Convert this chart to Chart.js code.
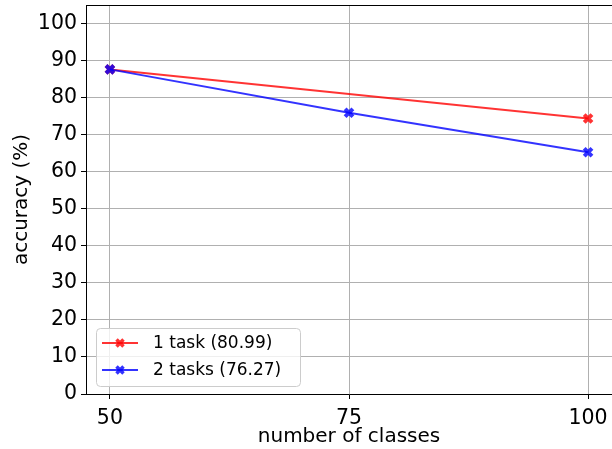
<!DOCTYPE html>
<html>
<head>
<meta charset="utf-8">
<script src="https://cdn.jsdelivr.net/npm/chart.js@4"></script>
<style>
    html, body { margin: 0; padding: 0; background: #fff; }
    #wrap { width: 612px; height: 449px; }
</style>
</head>
<body>
<div id="wrap"><canvas id="accChart" width="612" height="449"></canvas></div>
<script>
// data
const classCounts = [50, 75, 100];
const oneTaskClasses = [50, 100];
const oneTaskAcc = [87.62, 74.36];
const twoTaskAcc = [87.62, 75.92, 65.27];
const seriesLabels = ['1 task (80.99)', '2 tasks (76.27)'];
const yTicks = [0, 10, 20, 30, 40, 50, 60, 70, 80, 90, 100];

const FONT = 'DejaVu Sans';
const RED = 'rgba(255, 0, 0, 0.8)';
const BLUE = 'rgba(0, 0, 255, 0.8)';

// legend box drawn inside the plot, lower left
const insideLegend = {
    id: 'insideLegend',
    afterDraw(chart) {
        const ctx = chart.ctx;
        const area = chart.chartArea;
        const x = area.left + 10, y = area.bottom - 66, w = 204, h = 58;
        ctx.save();
        ctx.beginPath();
        ctx.roundRect(x + 0.5, y + 0.5, w, h, 4);
        ctx.fillStyle = 'rgba(255,255,255,0.8)';
        ctx.fill();
        ctx.strokeStyle = '#cccccc';
        ctx.lineWidth = 1;
        ctx.stroke();

        chart.data.datasets.forEach((ds, i) => {
            const rowY = y + 15 + i * 27;
            ctx.strokeStyle = ds.borderColor;
            ctx.lineWidth = 2;
            ctx.beginPath();
            ctx.moveTo(x + 6, rowY);
            ctx.lineTo(x + 42, rowY);
            ctx.stroke();
            ctx.lineWidth = 3.5;
            ctx.beginPath();
            ctx.moveTo(x + 24 - 3.5, rowY - 3.5);
            ctx.lineTo(x + 24 + 3.5, rowY + 3.5);
            ctx.moveTo(x + 24 - 3.5, rowY + 3.5);
            ctx.lineTo(x + 24 + 3.5, rowY - 3.5);
            ctx.stroke();
            ctx.fillStyle = '#000';
            ctx.font = '17px "' + FONT + '"';
            ctx.textBaseline = 'middle';
            ctx.textAlign = 'left';
            ctx.fillText(ds.label, x + 57, rowY + 1);
        });

        // top spine
        ctx.strokeStyle = '#000';
        ctx.lineWidth = 1;
        ctx.beginPath();
        ctx.moveTo(area.left, area.top + 0.5);
        ctx.lineTo(area.right, area.top + 0.5);
        ctx.stroke();
        ctx.restore();
    }
};

const ctx = document.getElementById('accChart').getContext('2d');
new Chart(ctx, {
    type: 'line',
    data: {
        datasets: [
            {
                label: seriesLabels[0],
                data: oneTaskClasses.map((c, i) => ({ x: c, y: oneTaskAcc[i] })),
                borderColor: RED,
                backgroundColor: RED,
                order: 1
            },
            {
                label: seriesLabels[1],
                data: classCounts.map((c, i) => ({ x: c, y: twoTaskAcc[i] })),
                borderColor: BLUE,
                backgroundColor: BLUE,
                order: 0
            }
        ].map(ds => ({
            ...ds,
            borderWidth: 2,
            pointStyle: 'crossRot',
            pointRadius: 5.5,
            pointBorderWidth: 4,
            tension: 0,
            fill: false
        }))
    },
    options: {
        responsive: false,
        animation: false,
        layout: { autoPadding: false, padding: { top: 5, right: 0, left: 0, bottom: 0 } },
        plugins: {
            legend: { display: false },
            tooltip: { enabled: false }
        },
        scales: {
            x: {
                type: 'linear',
                min: 47.5,
                max: 102.5,
                afterBuildTicks: s => { s.ticks = classCounts.map(v => ({ value: v })); },
                afterFit: s => {
                    s.height = 55;
                    s.paddingLeft = 0;
                    s.paddingRight = 0;
                },
                ticks: {
                    color: '#000',
                    padding: 7,
                    font: { family: FONT, size: 20.5 }
                },
                grid: { color: '#b0b0b0', tickColor: '#000', tickLength: 5 },
                border: { color: '#000' },
                title: {
                    display: true,
                    text: 'number of classes',
                    color: '#000',
                    padding: { top: 0, bottom: 0 },
                    font: { family: FONT, size: 20 }
                }
            },
            y: {
                min: 0,
                max: 105,
                afterBuildTicks: s => { s.ticks = yTicks.map(v => ({ value: v })); },
                afterFit: s => {
                    s.width = 86;
                    s.paddingTop = 0;
                    s.paddingBottom = 0;
                },
                ticks: {
                    color: '#000',
                    padding: 4,
                    font: { family: FONT, size: 20.5 }
                },
                grid: { color: '#b0b0b0', tickColor: '#000', tickLength: 5 },
                border: { color: '#000' },
                title: {
                    display: true,
                    text: 'accuracy (%)',
                    color: '#000',
                    padding: { top: 10, bottom: 0 },
                    font: { family: FONT, size: 20 }
                }
            }
        }
    },
    plugins: [insideLegend]
});
</script>
</body>
</html>
